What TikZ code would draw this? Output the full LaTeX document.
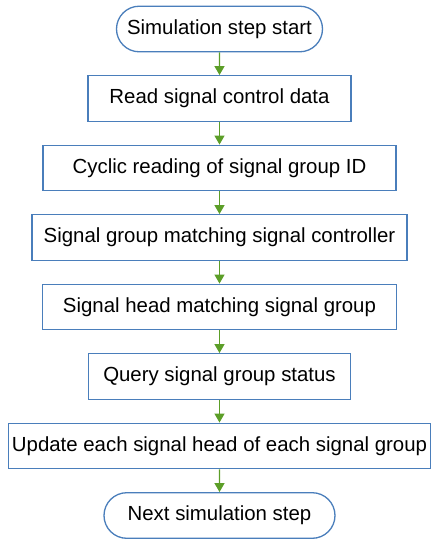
\documentclass[tikz,border=0pt]{standalone}
\usepackage{fontspec}
\setmainfont{Liberation Sans}
\usepackage{tikz}
\usetikzlibrary{arrows.meta,positioning,shapes.misc}
\definecolor{flowBlue}{HTML}{4A7EBB}
\definecolor{flowGreen}{HTML}{5C9E28}

\begin{document}
\begin{tikzpicture}[
    x=1pt, y=1pt,
    node distance=22.6pt,
    font=\fontsize{20.4}{24}\selectfont,
    stepbox/.style={draw=flowBlue, line width=1.3pt, rectangle, minimum height=45.6pt, align=center, inner sep=2pt},
    terminal/.style={draw=flowBlue, line width=1.3pt, rounded rectangle, minimum height=45.6pt, align=center, inner sep=2pt},
    arrow/.style={-{Triangle[width=10pt,length=9pt]}, flowGreen, line width=1.3pt}
]
    \useasboundingbox (0,0) rectangle (439,-550);

    % Start
    \node[terminal, minimum width=210pt] (start) at (219.5,-29) {Simulation step start};

    % Steps
    \node[stepbox, minimum width=263pt, below=of start] (read) {Read signal control data};
    \node[stepbox, minimum width=353pt, below=of read] (cyclic) {Cyclic reading of signal group ID};
    \node[stepbox, minimum width=375pt, below=of cyclic] (grpctrl) {Signal group matching signal controller};
    \node[stepbox, minimum width=354pt, below=of grpctrl] (headgrp) {Signal head matching signal group};
    \node[stepbox, minimum width=262pt, below=of headgrp] (query) {Query signal group status};
    \node[stepbox, minimum width=422pt, below=of query] (update) {Update each signal head of each signal group};

    % End
    \node[terminal, minimum width=235pt, below=of update] (next) {Next simulation step};

    % Arrows
    \draw[arrow] (start) -- (read);
    \draw[arrow] (read) -- (cyclic);
    \draw[arrow] (cyclic) -- (grpctrl);
    \draw[arrow] (grpctrl) -- (headgrp);
    \draw[arrow] (headgrp) -- (query);
    \draw[arrow] (query) -- (update);
    \draw[arrow] (update) -- (next);
\end{tikzpicture}
\end{document}
